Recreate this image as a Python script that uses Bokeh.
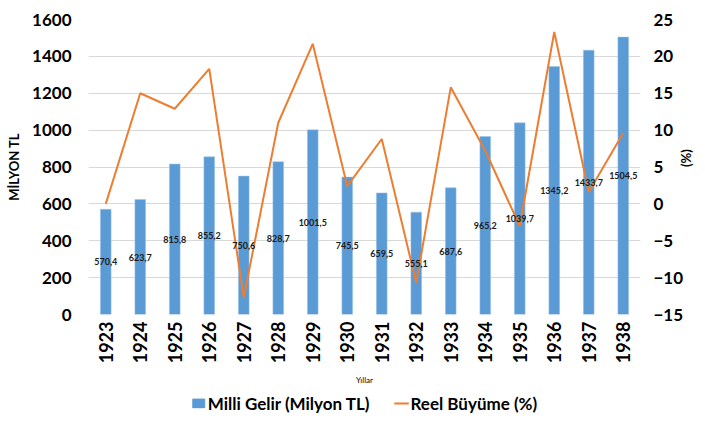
from math import pi
from bokeh.plotting import figure
from bokeh.layouts import column
from bokeh.models import (FactorRange, Range1d, LinearAxis, FixedTicker, Legend,
                          LegendItem, ColumnDataSource)
from bokeh.core.properties import value
from bokeh.embed import file_html
from bokeh.resources import INLINE

years = ["1923", "1924", "1925", "1926", "1927", "1928", "1929", "1930",
         "1931", "1932", "1933", "1934", "1935", "1936", "1937", "1938"]
milli_gelir = [570.4, 623.7, 815.8, 855.2, 750.6, 828.7, 1001.5, 745.5,
               659.5, 555.1, 687.6, 965.2, 1039.7, 1345.2, 1433.7, 1504.5]
reel_buyume = [0.0, 15.0, 12.9, 18.3, -12.7, 11.0, 21.7, 2.4,
               8.8, -10.7, 15.8, 7.2, -3.0, 23.3, 1.6, 9.6]
left_ticks = [0, 200, 400, 600, 800, 1000, 1200, 1400, 1600]
right_ticks = [-15, -10, -5, 0, 5, 10, 15, 20, 25]
series_names = ["Milli Gelir (Milyon TL)", "Reel Büyüme (%)"]

FONT = "Lato"
BLUE = "#5B9BD5"
ORANGE = "#ED7D31"

src = ColumnDataSource(dict(
    year=years,
    gelir=milli_gelir,
    buyume=reel_buyume,
    mid=[v / 2 for v in milli_gelir],
    lbl=[f"{v:.1f}".replace(".", ",") for v in milli_gelir],
))

p = figure(width=705, height=388, output_backend="svg", toolbar_location=None,
           x_range=FactorRange(*years), y_range=Range1d(0, 1600),
           min_border_left=88, min_border_right=61, min_border_top=19,
           min_border_bottom=73)
p.extra_y_ranges = {"g": Range1d(-15, 25)}
p.outline_line_color = None
p.background_fill_color = "white"
p.border_fill_color = "white"

bars = p.vbar(x="year", top="gelir", width=0.31, source=src,
              fill_color=BLUE, line_color="#9DC3E6", line_width=0.5)
line = p.line(x="year", y="buyume", source=src, y_range_name="g",
              line_color=ORANGE, line_width=2)
p.text(x="year", y="mid", text="lbl", source=src, text_align="center",
       text_baseline="middle", text_font=value(FONT), text_font_style="bold",
       text_font_size="9px", text_color="#1a1a1a")

p.xgrid.grid_line_color = None
p.ygrid.grid_line_color = "#D9D9D9"
p.ygrid.grid_line_width = 1
p.yaxis.ticker = FixedTicker(ticks=left_ticks)

def style_axis(ax):
    ax.axis_line_color = None
    ax.major_tick_line_color = None
    ax.minor_tick_line_color = None
    ax.major_tick_out = 0
    ax.major_tick_in = 0
    ax.major_label_text_font = FONT
    ax.major_label_text_font_style = "bold"
    ax.major_label_text_font_size = "17px"
    ax.major_label_text_color = "#000000"
    ax.axis_label_text_font = FONT
    ax.axis_label_text_font_style = "bold"
    ax.axis_label_text_color = "#000000"

ly = p.yaxis[0]
style_axis(ly)
ly.major_label_standoff = 17
ly.axis_label = "MİLYON TL"
ly.axis_label_text_font_size = "13px"
ly.axis_label_standoff = 7

ry = LinearAxis(y_range_name="g", ticker=FixedTicker(ticks=right_ticks))
style_axis(ry)
ry.major_label_standoff = 13
ry.axis_label = "(%)"
ry.axis_label_text_font_size = "13px"
ry.axis_label_standoff = 0
try:
    ry.axis_label_orientation = pi / 2
except Exception:
    pass
p.add_layout(ry, "right")

xa = p.xaxis[0]
style_axis(xa)
xa.major_label_orientation = pi / 2
xa.major_label_text_font_size = "18px"
xa.major_label_standoff = 7
xa.axis_label = "Yıllar"
xa.axis_label_text_font_size = "8px"
xa.axis_label_text_font_style = "normal"
xa.axis_label_standoff = 9

# legend strip below the chart (its renderers fall outside its visible range)
q = figure(width=705, height=30, output_backend="svg", toolbar_location=None,
           x_axis_type=None, y_axis_type=None,
           x_range=FactorRange(*years), y_range=Range1d(2000, 3000),
           min_border_left=0, min_border_right=0, min_border_top=0, min_border_bottom=0)
q.outline_line_color = None
q.xgrid.grid_line_color = None
q.ygrid.grid_line_color = None
q.background_fill_color = "white"
q.border_fill_color = "white"
lb = q.vbar(x="year", top="gelir", width=0.31, source=src,
            fill_color=BLUE, line_color=BLUE)
ll = q.line(x="year", y="buyume", source=src, line_color=ORANGE, line_width=2)
legend = Legend(items=[LegendItem(label=series_names[0], renderers=[lb]),
                       LegendItem(label=series_names[1], renderers=[ll])],
                orientation="horizontal", location="center",
                label_text_font=FONT, label_text_font_style="bold",
                label_text_font_size="17px", label_text_color="#000000",
                glyph_width=15, glyph_height=11,
                label_standoff=2, spacing=24, padding=2, margin=0,
                border_line_color=None, background_fill_alpha=0)
q.add_layout(legend, "center")

layout = column(p, q, spacing=0)

html = file_html(layout, INLINE)
html = html.replace("<head>", "<head><style>html,body{margin:0;padding:0;}</style>", 1)
open("out.html", "w").write(html)
